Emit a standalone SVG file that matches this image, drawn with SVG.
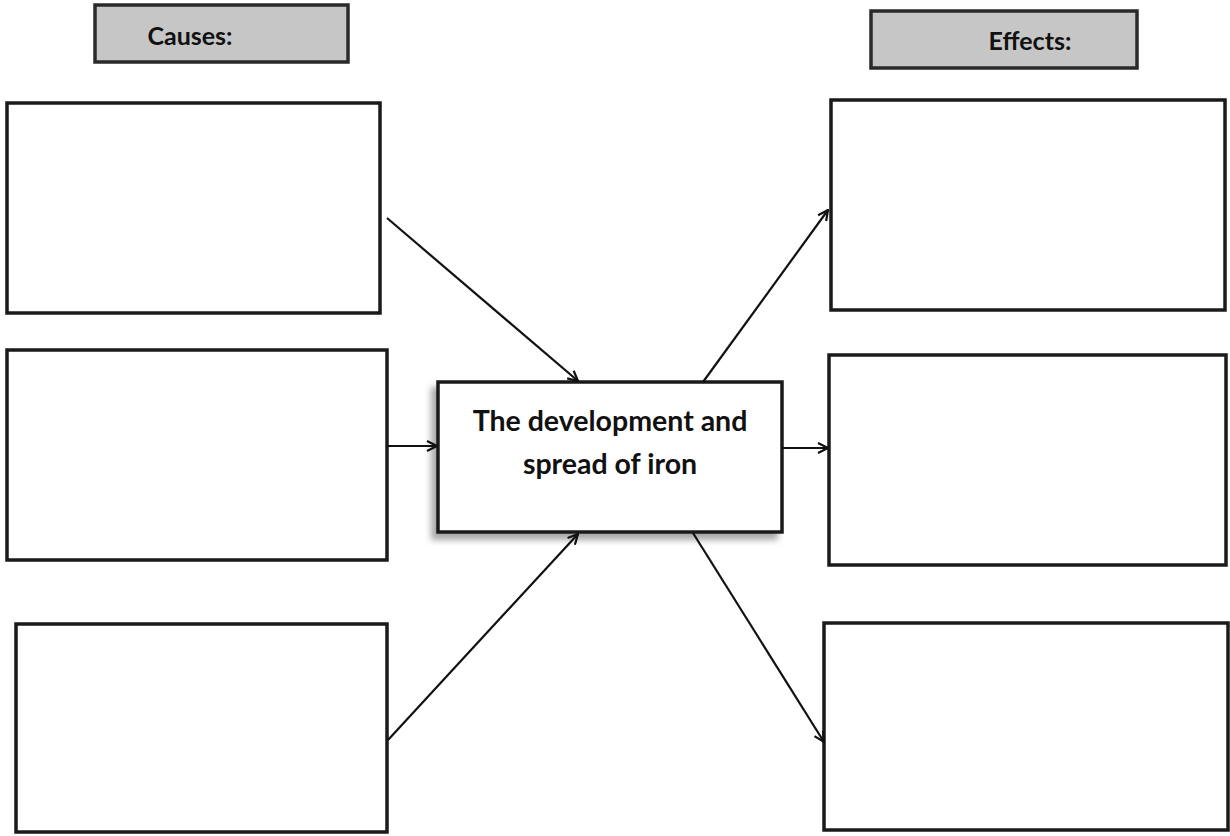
<svg xmlns="http://www.w3.org/2000/svg" width="1230" height="836" viewBox="0 0 1230 836">
<style>
.box{fill:#fff;stroke:#1a1a1a;stroke-width:3.5}
.hdr{fill:#c6c6c6;stroke:#2a2a2a;stroke-width:3.5}
.lbl{font-family:Lato,"Liberation Sans",sans-serif;font-weight:bold;font-size:25px;fill:#111;text-anchor:middle}
.big{font-size:28.5px}
.conn{stroke:#111;stroke-width:2.2;fill:none;marker-end:url(#ah)}
</style>
<defs>
<marker id="ah" viewBox="0 0 12 12" refX="11" refY="6" markerWidth="12" markerHeight="12" markerUnits="userSpaceOnUse" orient="auto">
<path d="M1,1 L11,6 L1,11" fill="none" stroke="#111" stroke-width="2.2"/>
</marker>
<filter id="sh" x="-10%" y="-10%" width="120%" height="130%">
<feGaussianBlur stdDeviation="3"/>
</filter>
</defs>
<rect width="1230" height="836" fill="#fff"/>
<g id="causes-header">
<rect class="hdr" x="95" y="5" width="253" height="57"/>
<text class="lbl" x="190" y="45">Causes:</text>
</g>
<g id="effects-header">
<rect class="hdr" x="871" y="11" width="266" height="57"/>
<text class="lbl" x="1030" y="50">Effects:</text>
</g>
<g id="cause1"><rect class="box" x="7" y="103" width="373" height="210"/></g>
<g id="cause2"><rect class="box" x="7" y="350" width="380" height="210"/></g>
<g id="cause3"><rect class="box" x="16" y="624" width="371" height="208"/></g>
<g id="effect1"><rect class="box" x="831" y="100" width="394" height="210"/></g>
<g id="effect2"><rect class="box" x="829" y="355" width="397" height="210"/></g>
<g id="effect3"><rect class="box" x="824" y="623" width="404" height="207"/></g>
<g id="center">
<rect x="431" y="387" width="347" height="153" fill="#a8a8a8" filter="url(#sh)"/>
<rect class="box" x="438" y="382" width="344" height="150"/>
<text class="lbl big" x="610" y="431">The development and</text>
<text class="lbl big" x="610" y="474">spread of iron</text>
</g>
<g id="connectors">
<line class="conn" x1="387" y1="218" x2="578" y2="381"/>
<line class="conn" x1="387" y1="446" x2="437" y2="446"/>
<line class="conn" x1="388" y1="740" x2="578" y2="534"/>
<line class="conn" x1="703" y1="382" x2="828" y2="210"/>
<line class="conn" x1="782" y1="448" x2="828" y2="448"/>
<line class="conn" x1="693" y1="533" x2="824" y2="742"/>
</g>
</svg>
